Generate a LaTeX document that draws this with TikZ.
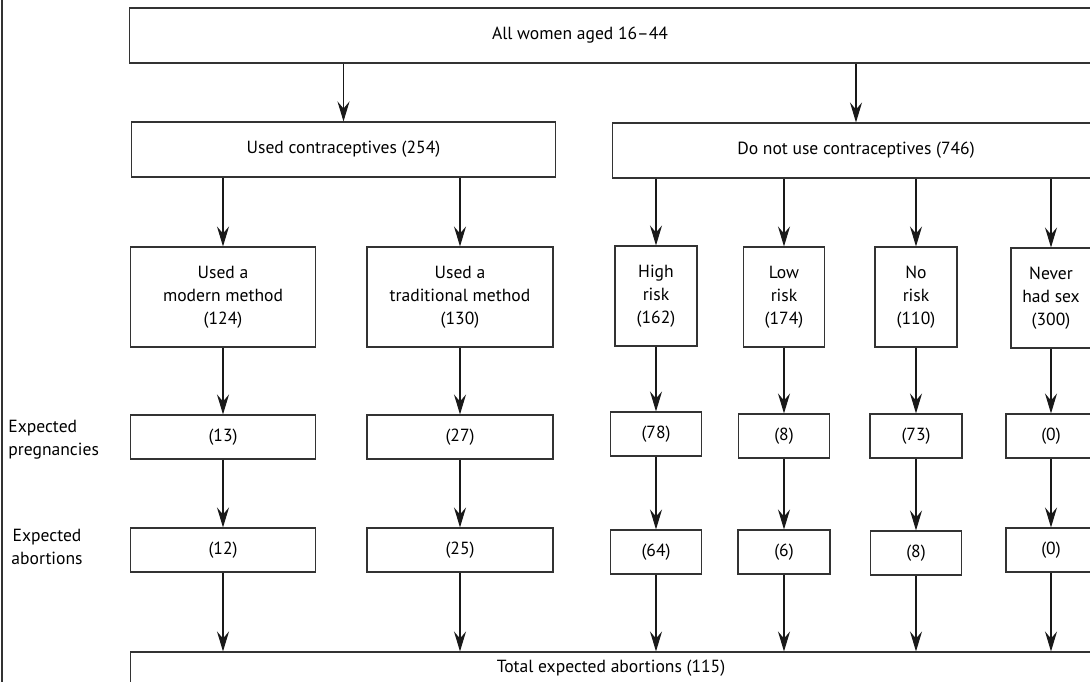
\documentclass[tikz,border=0pt]{standalone}
\usepackage{fontspec}
\setmainfont{PT Sans}
\usetikzlibrary{arrows.meta}
\begin{document}
\begin{tikzpicture}[x=0.02cm,y=-0.02cm]
\tikzset{
    caja/.style={draw=black!80, line width=0.6pt, text centered, align=center, inner sep=2pt, font=\fontsize{10}{13}\selectfont},
    flecha/.style={draw=black!90, line width=0.6pt, -{Stealth[length=4mm, width=2.4mm, inset=1.4mm]}},
    rotulo/.style={font=\fontsize{10}{13}\selectfont, inner sep=0pt}
}
\useasboundingbox (0,0) rectangle (1090,682);
\clip (0,0) rectangle (1090,682);
\draw[black!80, line width=0.6pt] (2,0) -- (2,682);
% arriba
\node[caja, minimum width=19.28cm, minimum height=1.1cm] (todas) at (611,35.5) {};
\node[rotulo] (todastxt) at (580,35.5) {All women aged 16--44};
\node[caja, minimum width=8.5cm, minimum height=1.1cm] (usan) at (343.5,149.5) {Used contraceptives (254)};
\node[caja, minimum width=9.76cm, minimum height=1.1cm] (nousan) at (856,150.5) {Do not use contraceptives (746)};
% grupos
\node[caja, minimum width=3.7cm, minimum height=2cm] (moderno) at (223,297) {Used a\\modern method\\(124)};
\node[caja, minimum width=3.72cm, minimum height=2cm] (tradicional) at (460,297) {Used a\\traditional method\\(130)};
\node[caja, minimum width=1.64cm, minimum height=2cm] (alto) at (656,296) {High\\risk\\(162)};
\node[caja, minimum width=1.62cm, minimum height=2cm] (bajo) at (784,297) {Low\\risk\\(174)};
\node[caja, minimum width=1.64cm, minimum height=2cm] (nulo) at (916,297) {No\\risk\\(110)};
\node[caja, minimum width=1.6cm, minimum height=2cm] (nunca) at (1051,298) {Never\\had sex\\(300)};
% embarazos
\node[rotulo, anchor=west, align=left] (etqemb) at (8,440) {Expected\\pregnancies};
\node[caja, minimum width=3.7cm, minimum height=0.88cm] (emb1) at (223,437) {(13)};
\node[caja, minimum width=3.72cm, minimum height=0.88cm] (emb2) at (460,437) {(27)};
\node[caja, minimum width=1.82cm, minimum height=0.88cm] (emb3) at (656,434) {(78)};
\node[caja, minimum width=1.82cm, minimum height=0.88cm] (emb4) at (784,436) {(8)};
\node[caja, minimum width=1.84cm, minimum height=0.88cm] (emb5) at (916,436) {(73)};
\node[caja, minimum width=1.8cm, minimum height=0.88cm] (emb6) at (1051,436) {(0)};
% abortos
\node[rotulo, align=center] (etqab) at (47,547) {Expected\\abortions};
\node[caja, minimum width=3.7cm, minimum height=0.88cm] (ab1) at (223,550) {(12)};
\node[caja, minimum width=3.72cm, minimum height=0.88cm] (ab2) at (460,550) {(25)};
\node[caja, minimum width=1.82cm, minimum height=0.88cm] (ab3) at (656,552) {(64)};
\node[caja, minimum width=1.84cm, minimum height=0.88cm] (ab4) at (784,552) {(6)};
\node[caja, minimum width=1.82cm, minimum height=0.88cm] (ab5) at (916,553) {(8)};
\node[caja, minimum width=1.8cm, minimum height=0.88cm] (ab6) at (1051,550) {(0)};
% total
\node[caja, minimum width=19.24cm, minimum height=0.64cm] (total) at (611,668) {Total expected abortions (115)};
% flechas
\draw[flecha] (todas.south -| usan) -- (usan);
\draw[flecha] (todas.south -| nousan) -- (nousan);
\draw[flecha] (usan.south -| moderno) -- (moderno);
\draw[flecha] (usan.south -| tradicional) -- (tradicional);
\draw[flecha] (nousan.south -| alto) -- (alto);
\draw[flecha] (nousan.south -| bajo) -- (bajo);
\draw[flecha] (nousan.south -| nulo) -- (nulo);
\draw[flecha] (nousan.south -| nunca) -- (nunca);
\draw[flecha] (moderno) -- (emb1);
\draw[flecha] (tradicional) -- (emb2);
\draw[flecha] (alto) -- (emb3);
\draw[flecha] (bajo) -- (emb4);
\draw[flecha] (nulo) -- (emb5);
\draw[flecha] (nunca) -- (emb6);
\draw[flecha] (emb1) -- (ab1);
\draw[flecha] (emb2) -- (ab2);
\draw[flecha] (emb3) -- (ab3);
\draw[flecha] (emb4) -- (ab4);
\draw[flecha] (emb5) -- (ab5);
\draw[flecha] (emb6) -- (ab6);
\draw[flecha] (ab1) -- (ab1 |- total.north);
\draw[flecha] (ab2) -- (ab2 |- total.north);
\draw[flecha] (ab3) -- (ab3 |- total.north);
\draw[flecha] (ab4) -- (ab4 |- total.north);
\draw[flecha] (ab5) -- (ab5 |- total.north);
\draw[flecha] (ab6) -- (ab6 |- total.north);
\end{tikzpicture}
\end{document}
